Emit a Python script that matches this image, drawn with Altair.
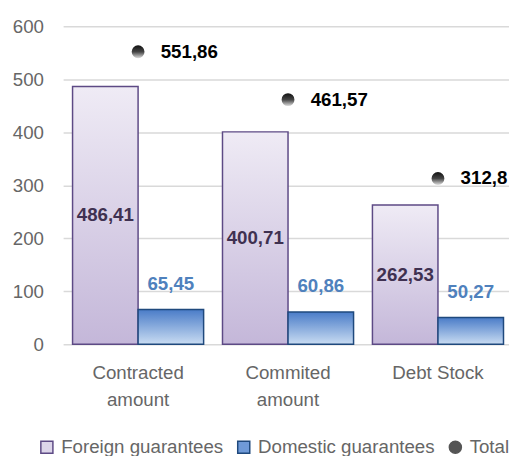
import altair as alt
import pandas as pd

categories = ["Contracted amount", "Commited amount", "Debt Stock"]
foreign = [486.41, 400.71, 262.53]
domestic = [65.45, 60.86, 50.27]
total = [551.86, 461.57, 312.8]
series_names = ["Foreign guarantees", "Domestic guarantees", "Total"]

FONT = "Liberation Sans, Arial, sans-serif"
FS = 19

def fmt(v):
    return f"{v:g}".replace(".", ",")

rows = []
for c, f, d, t in zip(categories, foreign, domestic, total):
    rows.append({"category": c, "series": "Foreign guarantees", "value": f, "half": f / 2, "label": fmt(f)})
    rows.append({"category": c, "series": "Domestic guarantees", "value": d, "half": d / 2, "label": fmt(d)})
    rows.append({"category": c, "series": "Total", "value": t, "half": t / 2, "label": fmt(t)})
df = pd.DataFrame(rows)

x_enc = alt.X(
    "category:N",
    sort=categories,
    scale=alt.Scale(paddingInner=0, paddingOuter=0),
    axis=alt.Axis(
        title=None,
        labelAngle=0,
        labelExpr="datum.label == 'Contracted amount' ? ['Contracted','amount'] : datum.label == 'Commited amount' ? ['Commited','amount'] : datum.label",
        labelFontSize=FS,
        labelColor="#666666",
        labelFont=FONT,
        labelPadding=20,
        labelLineHeight=27,
        ticks=False,
        domain=False,
    ),
)
xoff = alt.XOffset(
    "series:N",
    scale=alt.Scale(domain=["Foreign guarantees", "Domestic guarantees"], paddingInner=0, paddingOuter=0.144),
)
y_enc = alt.Y(
    "value:Q",
    scale=alt.Scale(domain=[0, 600]),
    axis=alt.Axis(
        title=None,
        values=[0, 100, 200, 300, 400, 500, 600],
        labelFontSize=FS,
        labelColor="#666666",
        labelFont=FONT,
        labelPadding=20,
        ticks=False,
        domain=False,
        gridColor="#d9d9d9",
        gridWidth=1.5,
    ),
)

base = alt.Chart(df)

foreign_grad = alt.Gradient(
    gradient="linear", x1=0, y1=0, x2=0, y2=1,
    stops=[alt.GradientStop(color="#efebf5", offset=0), alt.GradientStop(color="#c4b7d9", offset=1)],
)
domestic_grad = alt.Gradient(
    gradient="linear", x1=0, y1=0, x2=0, y2=1,
    stops=[alt.GradientStop(color="#4a7cc8", offset=0), alt.GradientStop(color="#c9dcf2", offset=1)],
)
total_grad = alt.Gradient(
    gradient="linear", x1=0, y1=0, x2=0, y2=1,
    stops=[alt.GradientStop(color="#111111", offset=0), alt.GradientStop(color="#444444", offset=0.5), alt.GradientStop(color="#dddddd", offset=1)],
)

foreign_bars = base.transform_filter(alt.datum.series == "Foreign guarantees").mark_bar(
    fill=foreign_grad, stroke="#5d4a85", strokeWidth=1.5
).encode(x=x_enc, xOffset=xoff, y=y_enc)

domestic_bars = base.transform_filter(alt.datum.series == "Domestic guarantees").mark_bar(
    fill=domestic_grad, stroke="#1f497d", strokeWidth=1.5
).encode(x=x_enc, xOffset=xoff, y=y_enc)

foreign_labels = base.transform_filter(alt.datum.series == "Foreign guarantees").mark_text(
    font=FONT, fontSize=FS, fontWeight="bold", color="#3f3151", baseline="middle"
).encode(x=x_enc, xOffset=xoff, y=alt.Y("half:Q"), text="label:N")

domestic_labels = base.transform_filter(alt.datum.series == "Domestic guarantees").mark_text(
    font=FONT, fontSize=FS, fontWeight="bold", color="#4f81bd", baseline="middle", dy=-26
).encode(x=x_enc, xOffset=xoff, y=alt.Y("value:Q"), text="label:N")

total_points = base.transform_filter(alt.datum.series == "Total").mark_point(
    shape="circle", filled=True, fill=total_grad, size=170, opacity=1, strokeWidth=0
).encode(x=x_enc, y=alt.Y("value:Q"))

total_labels = base.transform_filter(alt.datum.series == "Total").mark_text(
    font=FONT, fontSize=FS, fontWeight="bold", color="#000000", align="left", baseline="middle", dx=23
).encode(x=x_enc, y=alt.Y("value:Q"), text="label:N")

legend_layer = base.mark_point(filled=True, opacity=1, size=0).encode(
    x=x_enc,
    y=alt.Y("half:Q"),
    color=alt.Color(
        "series:N",
        scale=alt.Scale(domain=series_names, range=["#dcd5e9", "#6f9ad8", "#555555"]),
        legend=alt.Legend(
            title=None,
            orient="none",
            legendX=-26,
            legendY=418,
            direction="horizontal",
            labelFont=FONT,
            labelFontSize=FS,
            labelColor="#666666",
            labelLimit=400,
            symbolSize=150,
            symbolOpacity=1,
            symbolStrokeWidth=1.5,
            labelOffset=5,
            columnPadding=11,
        ),
    ),
    stroke=alt.Stroke(
        "series:N",
        scale=alt.Scale(domain=series_names, range=["#5d4a85", "#1f497d", "#555555"]),
        legend=alt.Legend(title=None),
    ),
    shape=alt.Shape(
        "series:N",
        scale=alt.Scale(domain=series_names, range=["square", "square", "circle"]),
        legend=alt.Legend(title=None),
    ),
)

chart = alt.layer(
    legend_layer, foreign_bars, domestic_bars, foreign_labels, domestic_labels, total_points, total_labels
).properties(
    width=457,
    height=323,
    padding={"left": 56, "top": 15, "right": -4, "bottom": 110},
    autosize=alt.AutoSizeParams(type="none"),
).configure_view(stroke=None)

chart.save("out.html", embed_options={"renderer": "svg", "actions": False})
